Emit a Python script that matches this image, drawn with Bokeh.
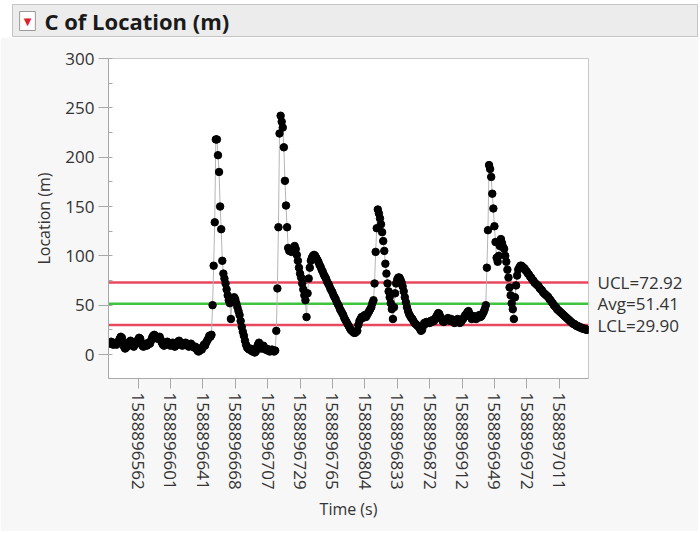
from bokeh.plotting import figure
from bokeh.models import (Range1d, FixedTicker, SingleIntervalTicker, LinearAxis,
                          Span, Label, ColumnDataSource)
from bokeh.layouts import column
from bokeh.embed import file_html
from bokeh.resources import INLINE

# ---- data ----
location = [
    12, 11, 13, 12, 10, 11, 12, 10, 12, 13,
    16, 18, 17, 12, 8, 6, 7, 9, 10, 13,
    14, 12, 9, 8, 10, 11, 13, 15, 17, 16,
    12, 9, 8, 10, 11, 9, 10, 12, 11, 14,
    17, 19, 20, 19, 18, 16, 17, 18, 15, 12,
    10, 9, 10, 11, 13, 12, 10, 9, 11, 12,
    10, 8, 9, 11, 13, 14, 12, 10, 9, 10,
    11, 12, 10, 9, 8, 10, 11, 9, 8, 7,
    8, 6, 4, 3, 4, 6, 5, 8, 10, 9,
    12, 14, 16, 19, 18, 20, 50, 90, 134, 218,
    218, 202, 185, 150, 127, 95, 82, 77, 72, 66,
    60, 55, 52, 36, 55, 57, 58, 56, 52, 48,
    44, 40, 34, 28, 23, 19, 14, 10, 7, 6,
    5, 6, 4, 3, 4, 2, 3, 7, 10, 12,
    8, 6, 7, 9, 6, 5, 6, 4, 5, 3,
    4, 5, 4, 3, 4, 24, 67, 129, 224, 242,
    236, 230, 210, 176, 151, 129, 108, 105, 106, 104,
    105, 108, 110, 107, 101, 95, 88, 82, 78, 72,
    66, 60, 55, 38, 62, 77, 88, 95, 98, 100,
    101, 100, 98, 96, 94, 91, 89, 86, 84, 81,
    79, 77, 74, 72, 70, 67, 65, 63, 60, 58,
    56, 53, 51, 49, 46, 44, 42, 40, 37, 35,
    33, 31, 29, 27, 25, 24, 23, 22, 22, 23,
    24, 30, 34, 36, 38, 37, 39, 40, 38, 40,
    42, 44, 46, 48, 52, 55, 72, 104, 128, 147,
    143, 138, 132, 124, 115, 105, 92, 82, 72, 64,
    58, 52, 46, 36, 48, 62, 72, 76, 78, 78,
    76, 73, 69, 64, 58, 53, 48, 44, 41, 39,
    37, 36, 34, 32, 31, 30, 29, 28, 26, 24,
    25, 29, 32, 31, 33, 32, 33, 32, 34, 33,
    35, 34, 36, 38, 40, 42, 41, 38, 36, 34,
    33, 34, 35, 36, 37, 35, 34, 36, 35, 33,
    32, 33, 34, 36, 34, 32, 33, 35, 36, 38,
    40, 41, 43, 44, 41, 38, 36, 37, 39, 38,
    36, 37, 38, 40, 38, 39, 41, 43, 46, 50,
    88, 126, 192, 188, 180, 163, 148, 130, 114, 98,
    94, 100, 110, 117, 113, 109, 107, 100, 94, 86,
    78, 68, 60, 52, 46, 36, 58, 70, 80, 86,
    88, 90, 90, 89, 88, 87, 85, 84, 82, 81,
    79, 78, 76, 75, 73, 72, 71, 70, 69, 67,
    66, 65, 63, 62, 61, 60, 59, 58, 56, 55,
    53, 52, 50, 49, 48, 46, 45, 44, 43, 42,
    41, 40, 39, 38, 37, 36, 35, 34, 33, 32,
    31, 31, 30, 29, 29, 28, 28, 27, 27, 26,
    26, 26, 25, 25,
]
sample = list(range(1, len(location) + 1))

tick_samples = [28, 58, 88, 118, 148, 178, 208, 238, 268, 298, 328, 358, 388, 418]
tick_labels = ["1588896562", "1588896601", "1588896641", "1588896668",
               "1588896707", "1588896729", "1588896765", "1588896804",
               "1588896833", "1588896872", "1588896912", "1588896949",
               "1588896972", "1588897011"]

ucl = 72.92
avg = 51.41
lcl = 29.90
limit_values = [lcl, avg, ucl]
limit_labels = ["LCL=29.90", "Avg=51.41", "UCL=72.92"]

FONT = "Open Sans"
TEXT = "#333333"

# ---- title bar (its own small figure; frame = the grey bar) ----
bar = figure(width=698, height=37, x_range=Range1d(12, 698), y_range=Range1d(37, 4),
             toolbar_location=None, output_backend="svg", title=None,
             x_axis_location=None, y_axis_location=None,
             min_border_left=12, min_border_right=0, min_border_top=4, min_border_bottom=0)
bar.frame_align = False
bar.grid.visible = False
bar.background_fill_color = "#ececec"
bar.border_fill_color = "#ffffff"
bar.outline_line_color = "#c4c4c4"
bar.add_layout(Label(x=27, y=20.5, text="\u25bc", text_align="center", text_baseline="middle",
                     text_color="#d8232f", text_font_size="10px", text_font="DejaVu Sans",
                     background_fill_color="#ffffff", border_line_color="#999999", padding=4))
bar.add_layout(Label(x=44, y=20.5, text="C of Location (m)", text_baseline="middle",
                     text_font=FONT, text_font_style="bold", text_font_size="22px",
                     text_color="#1a1a1a"))

# ---- main chart ----
p = figure(width=698, height=494, x_range=Range1d(0.63, 445.1), y_range=Range1d(-24.3, 300),
           toolbar_location=None, output_backend="svg", title=None,
           min_border_left=108, min_border_right=110, min_border_top=21, min_border_bottom=153)
p.frame_align = False
p.grid.visible = False
p.background_fill_color = "#ffffff"
p.border_fill_color = "#f7f7f7"
p.outline_line_color = "#c8c8c8"

for loc, col in [(ucl, "#e8485e"), (avg, "#3fc43f"), (lcl, "#e8485e")]:
    p.add_layout(Span(location=loc, dimension="width", line_color=col, line_width=2.5,
                      level="underlay"))

src = ColumnDataSource(dict(sample=sample, location=location))
p.line("sample", "location", source=src, line_color="#b5b5b5", line_width=1)
p.scatter("sample", "location", source=src, size=7.5, fill_color="#000000",
          line_color="#000000")

ya = p.yaxis[0]
ya.ticker = SingleIntervalTicker(interval=50, num_minor_ticks=2)
ya.axis_label = "Location (m)"

xa = p.xaxis[0]
xa.ticker = FixedTicker(ticks=tick_samples, minor_ticks=[])
xa.major_label_overrides = dict(zip(tick_samples, tick_labels))
xa.major_label_orientation = "vertical"
xa.axis_label = "Time (s)"

for ax in (xa, ya):
    ax.axis_line_color = "#a8a8a8"
    ax.major_tick_line_color = "#a8a8a8"
    ax.minor_tick_line_color = "#a8a8a8"
    ax.major_tick_out = 10
    ax.major_tick_in = 0
    ax.minor_tick_out = 0
    ax.minor_tick_in = 4
    ax.major_label_text_font = FONT
    ax.major_label_text_font_size = "17px"
    ax.major_label_text_color = TEXT
    ax.major_label_standoff = 4
    ax.axis_label_text_font = FONT
    ax.axis_label_text_font_size = "16px"
    ax.axis_label_text_font_style = "normal"
    ax.axis_label_text_color = TEXT
ya.axis_label_standoff = 7
xa.axis_label_standoff = 5

ra = LinearAxis(ticker=FixedTicker(ticks=limit_values, minor_ticks=[]),
                major_label_overrides=dict(zip(limit_values, limit_labels)))
ra.axis_line_color = None
ra.major_tick_line_color = None
ra.minor_tick_line_color = None
ra.major_label_standoff = 3
ra.major_label_text_font = FONT
ra.major_label_text_font_size = "17px"
ra.major_label_text_color = TEXT
p.add_layout(ra, "right")

layout = column(bar, p, spacing=0)
open("out.html", "w").write(file_html(layout, INLINE))
